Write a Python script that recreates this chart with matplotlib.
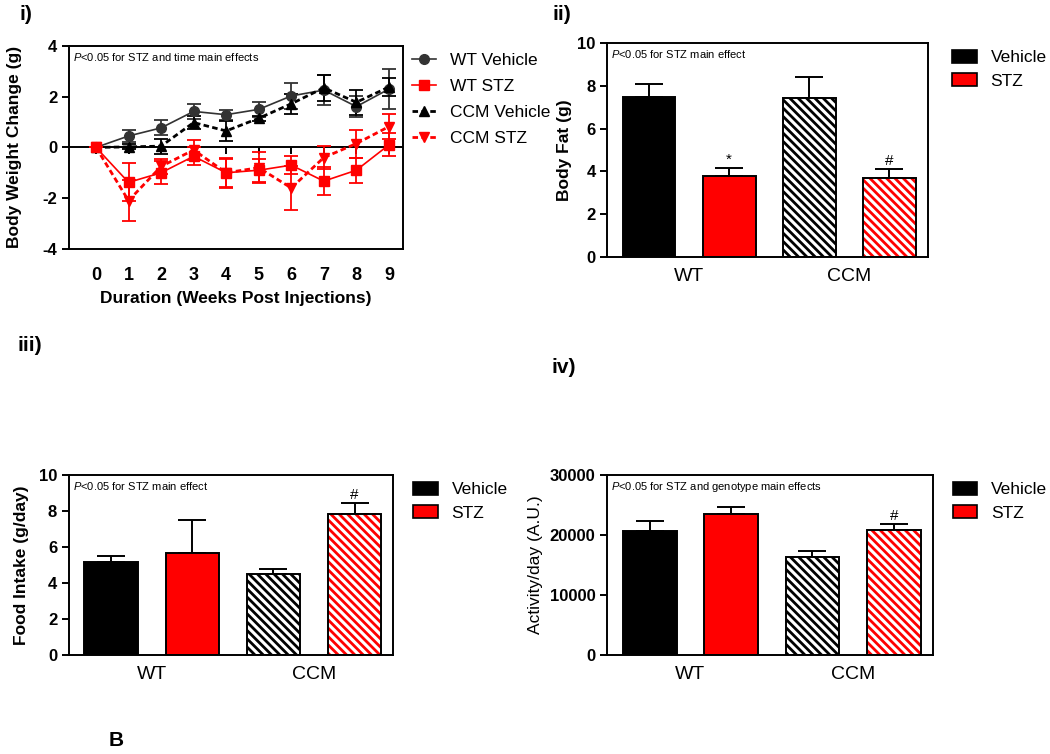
import numpy as np
import matplotlib
matplotlib.use("Agg")
import matplotlib.pyplot as plt
from matplotlib.patches import Patch
from matplotlib.lines import Line2D

plt.rcParams['font.family'] = ['Liberation Sans', 'DejaVu Sans']
plt.rcParams['mathtext.fontset'] = 'custom'
plt.rcParams['mathtext.it'] = 'Liberation Sans:italic'
plt.rcParams['mathtext.rm'] = 'Liberation Sans'
plt.rcParams['axes.unicode_minus'] = False
plt.rcParams['hatch.linewidth'] = 2.0

# panel i: body weight change over time
weeks = [0, 1, 2, 3, 4, 5, 6, 7, 8, 9]
wt_veh = [0, 0.45, 0.77, 1.42, 1.29, 1.5, 2.03, 2.26, 1.61, 2.3]
wt_veh_err = [0, 0.25, 0.3, 0.3, 0.2, 0.3, 0.5, 0.6, 0.4, 0.8]
ccm_veh = [0, 0.02, 0.05, 0.98, 0.65, 1.15, 1.72, 2.35, 1.78, 2.38]
ccm_veh_err = [0, 0.1, 0.3, 0.25, 0.4, 0.1, 0.4, 0.5, 0.5, 0.35]
wt_stz = [0, -1.38, -1.0, -0.35, -1.0, -0.9, -0.7, -1.33, -0.9, 0.1]
wt_stz_err = [0, 0.75, 0.45, 0.35, 0.55, 0.45, 0.35, 0.55, 0.5, 0.45]
ccm_stz = [0, -2.1, -0.75, -0.1, -1.0, -0.8, -1.6, -0.4, 0.15, 0.82]
ccm_stz_err = [0, 0.8, 0.3, 0.4, 0.6, 0.6, 0.85, 0.45, 0.55, 0.5]

# bar panels: order WT Vehicle, WT STZ, CCM Vehicle, CCM STZ
groups = ['WT', 'CCM']
body_fat = [7.5, 3.8, 7.45, 3.7]
body_fat_err = [0.6, 0.35, 0.95, 0.4]
body_fat_marks = ['', '*', '', '#']
food = [5.15, 5.7, 4.5, 7.85]
food_err = [0.35, 1.8, 0.3, 0.6]
food_marks = ['', '', '', '#']
activity = [20700, 23500, 16400, 20900]
activity_err = [1700, 1200, 900, 900]
activity_marks = ['', '', '', '#']

fig = plt.figure(figsize=(10.5, 7.54), dpi=100)


def style_axes(ax):
    for s in ax.spines.values():
        s.set_linewidth(1.4)
    ax.tick_params(axis='both', width=1.4, length=5, labelsize=12)
    for lab in ax.get_yticklabels() + ax.get_xticklabels():
        lab.set_fontweight('bold')


def p_note(ax, txt):
    ax.text(0.012, 0.975, r'$\it{P}$' + txt, transform=ax.transAxes,
            ha='left', va='top', fontsize=8)


# ---- panel i ----
ax1 = fig.add_axes([0.0657, 0.670, 0.318, 0.269])
ax1.axhline(0, color='black', lw=1.4, zorder=1)
ax1.plot(weeks, np.zeros(len(weeks)), ls='none', marker=3, ms=5, mew=1.4,
         color='black', zorder=1)
ax1.errorbar(weeks, wt_veh, yerr=wt_veh_err, color='#333333', marker='o',
             ms=7, lw=1.2, capsize=5, elinewidth=1.3, capthick=1.3, zorder=3)
ax1.errorbar(weeks, ccm_veh, yerr=ccm_veh_err, color='black', marker='^',
             ms=7, lw=2, ls=(0, (2, 1.2)), capsize=5, elinewidth=1.3, capthick=1.3, zorder=3)
ax1.errorbar(weeks, wt_stz, yerr=wt_stz_err, color='red', marker='s',
             ms=7, lw=1.2, capsize=5, elinewidth=1.3, capthick=1.3, zorder=4)
ax1.errorbar(weeks, ccm_stz, yerr=ccm_stz_err, color='red', marker='v',
             ms=7, lw=2, ls=(0, (2, 1.2)), capsize=5, elinewidth=1.3, capthick=1.3, zorder=4)
ax1.set_xlim(-0.83, 9.43)
ax1.set_ylim(-4, 4)
ax1.set_yticks([-4, -2, 0, 2, 4])
ax1.set_xticks(weeks)
style_axes(ax1)
ax1.tick_params(axis='x', length=0, pad=13, labelsize=13)
ax1.set_xlabel('Duration (Weeks Post Injections)', fontsize=12.5, fontweight='bold',
               labelpad=5)
ax1.set_ylabel('Body Weight Change (g)', fontsize=12.5, fontweight='bold', labelpad=15)
p_note(ax1, '<0.05 for STZ and time main effects')
handles = [
    Line2D([], [], color='#333333', marker='o', ms=7, lw=1.2),
    Line2D([], [], color='red', marker='s', ms=7, lw=1.2),
    Line2D([], [], color='black', marker='^', ms=7, lw=2, ls=(0, (2, 1.2))),
    Line2D([], [], color='red', marker='v', ms=7, lw=2, ls=(0, (2, 1.2))),
]
ax1.legend(handles, ['WT Vehicle', 'WT STZ', 'CCM Vehicle', 'CCM STZ'],
           loc='upper left', bbox_to_anchor=(1.006, 1.0), frameon=False,
           fontsize=12.5, handlelength=1.4, handletextpad=0.8, labelspacing=0.62,
           borderaxespad=0)


def bar_panel(rect, vals, errs, marks, ylim, yticks, ylabel, note, leg_x,
              label_weight='bold', label_pad=4):
    ax = fig.add_axes(rect)
    x = np.arange(len(vals))
    w = 0.66
    faces = ['black', 'red', 'white', 'white']
    hatch_cols = [None, None, 'black', 'red']
    for i in range(len(vals)):
        if hatch_cols[i] is None:
            ax.bar(x[i], vals[i], w, color=faces[i], edgecolor='black', lw=1.4, zorder=2)
        else:
            ax.bar(x[i], vals[i], w, color='white', edgecolor=hatch_cols[i],
                   hatch='\\\\\\\\', lw=0, zorder=2)
            ax.bar(x[i], vals[i], w, fill=False, edgecolor='black', lw=1.4, zorder=3)
    ax.errorbar(x, vals, yerr=[np.zeros(len(vals)), errs], fmt='none',
                ecolor='black', elinewidth=1.4, capsize=10, capthick=1.4, zorder=1)
    span = ylim[1] - ylim[0]
    for i in range(len(vals)):
        if marks[i]:
            ax.text(x[i], vals[i] + errs[i] + span * 0.005, marks[i], ha='center',
                    va='bottom', fontsize=11)
    ax.set_xlim(-0.52, 3.48)
    ax.set_ylim(*ylim)
    ax.set_yticks(yticks)
    ax.set_xticks([0.5, 2.5])
    ax.set_xticklabels(groups)
    style_axes(ax)
    ax.tick_params(axis='x', length=0, pad=8, labelsize=14)
    for lab in ax.get_xticklabels():
        lab.set_fontweight('normal')
    ax.set_ylabel(ylabel, fontsize=12.5, fontweight=label_weight, labelpad=label_pad)
    p_note(ax, note)
    leg = [Patch(facecolor='black', edgecolor='black', lw=1.2),
           Patch(facecolor='red', edgecolor='black', lw=1.2)]
    ax.legend(leg, ['Vehicle', 'STZ'], loc='upper left', bbox_to_anchor=(1 + leg_x, 1.0),
              frameon=False, fontsize=12.5, handlelength=1.4, handleheight=0.75,
              handletextpad=0.8, labelspacing=0.45, borderaxespad=0)
    return ax


bar_panel([0.5785, 0.659, 0.305, 0.284], body_fat, body_fat_err, body_fat_marks,
          (0, 10), [0, 2, 4, 6, 8, 10], 'Body Fat (g)', '<0.05 for STZ main effect', 0.055)
bar_panel([0.0657, 0.131, 0.309, 0.239], food, food_err, food_marks,
          (0, 10), [0, 2, 4, 6, 8, 10], 'Food Intake (g/day)', '<0.05 for STZ main effect',
          0.04, label_pad=7)
bar_panel([0.5785, 0.131, 0.310, 0.239], activity, activity_err, activity_marks,
          (0, 30000), [0, 10000, 20000, 30000], 'Activity/day (A.U.)',
          '<0.05 for STZ and genotype main effects', 0.04, label_weight='normal',
          label_pad=5)

fig.text(0.019, 0.993, 'i)', fontsize=15, fontweight='bold', va='top')
fig.text(0.526, 0.993, 'ii)', fontsize=15, fontweight='bold', va='top')
fig.text(0.017, 0.555, 'iii)', fontsize=15, fontweight='bold', va='top')
fig.text(0.525, 0.525, 'iv)', fontsize=15, fontweight='bold', va='top')
fig.text(0.103, 0.005, 'B', fontsize=15, fontweight='bold', va='bottom')

fig.savefig('out.png', dpi=100)
